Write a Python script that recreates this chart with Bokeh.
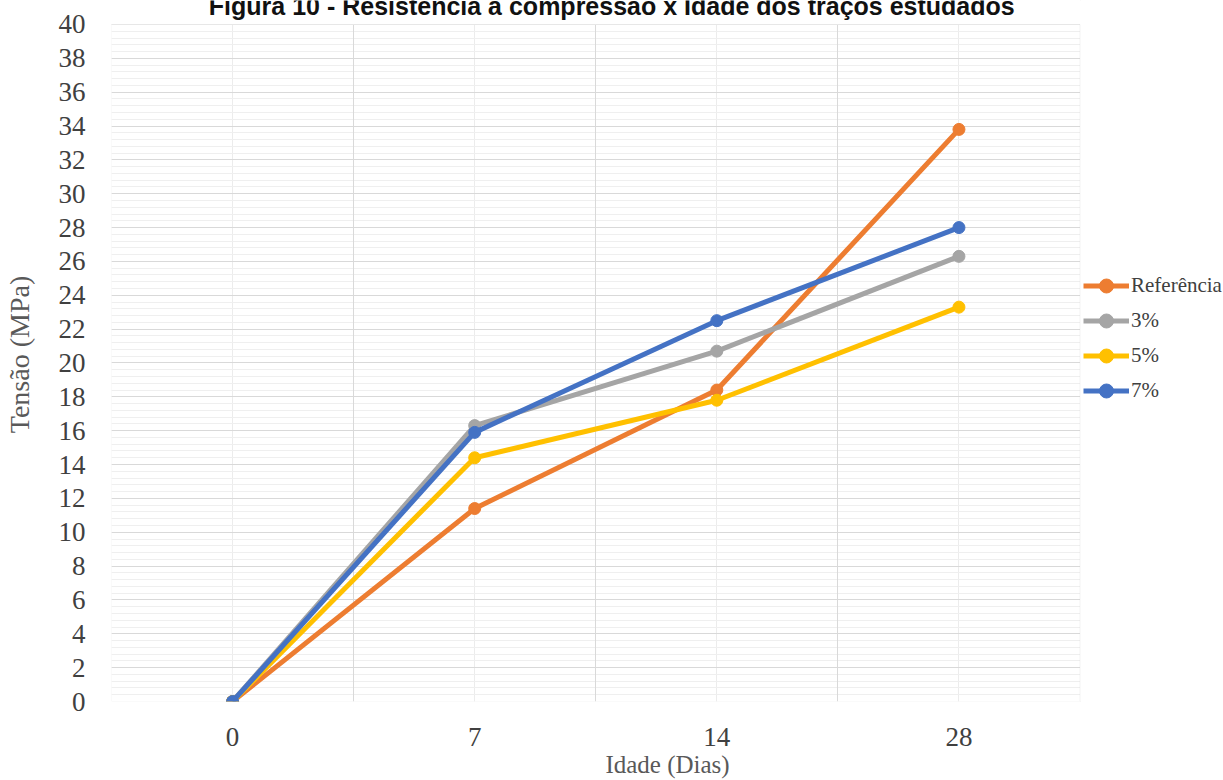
from bokeh.plotting import figure
from bokeh.models import (Range1d, Legend, LegendItem, Label, FixedTicker, Grid,
                          BoxAnnotation)
from bokeh.embed import file_html
from bokeh.resources import INLINE

# ---- data ----
ages = ["0", "7", "14", "28"]
referencia = [0, 11.4, 18.4, 33.8]
p3 = [0, 16.3, 20.7, 26.3]
p5 = [0, 14.4, 17.8, 23.3]
p7 = [0, 15.9, 22.5, 28.0]
series_names = ["Referência", "3%", "5%", "7%"]
series_values = [referencia, p3, p5, p7]
series_colors = ["#ED7D31", "#A5A5A5", "#FFC000", "#4472C4"]
y_ticks = list(range(0, 41, 2))
title_text = "Figura 10 - Resistência à compressão x Idade dos traços estudados"
x_title = "Idade (Dias)"
y_title = "Tensão  (MPa)"

# category positions on the axis
xpos = list(range(len(ages)))
x_lo, x_hi = -0.5, len(ages) - 0.5
y_lo, y_hi = 0, 40

# the frame is widened to hold the legend and the title (areas outside the
# plot box are blanked with white boxes)
p = figure(width=1223, height=780,
           x_range=Range1d(x_lo, x_hi + 144 / 243),
           y_range=Range1d(y_lo, y_hi + 24 / 16.95),
           output_backend="svg", toolbar_location=None,
           min_border_left=107, min_border_right=0,
           min_border_top=0, min_border_bottom=78)

p.background_fill_color = "white"
p.border_fill_color = "white"
p.outline_line_color = None

# ---- axes ----
p.xaxis.ticker = FixedTicker(ticks=xpos)
p.xaxis.major_label_overrides = {i: a for i, a in zip(xpos, ages)}
p.xaxis.bounds = (x_lo, x_hi)
p.yaxis.ticker = FixedTicker(ticks=y_ticks, minor_ticks=[i * 0.4 for i in range(101)])
p.yaxis.bounds = (y_lo, y_hi)

for ax in (p.xaxis[0], p.yaxis[0]):
    ax.axis_line_color = None
    ax.major_tick_line_color = None
    ax.minor_tick_line_color = None
    ax.major_tick_out = 0
    ax.major_label_text_font = "Liberation Serif"
    ax.major_label_text_font_size = "27px"
    ax.major_label_text_color = "#404040"
    ax.axis_label_text_font = "Liberation Serif"
    ax.axis_label_text_font_size = "25px"
    ax.axis_label_text_color = "#595959"
    ax.axis_label_text_font_style = "normal"

p.yaxis.major_label_standoff = 22
p.yaxis.axis_label = y_title
p.yaxis.axis_label_standoff = 21
p.yaxis.axis_label_text_font_size = "28px"
p.xaxis.major_label_standoff = 26
p.xaxis.axis_label = x_title
p.xaxis.axis_label_standoff = 2

# ---- grids ----
p.ygrid.grid_line_color = "#d9d9d9"
p.ygrid.minor_grid_line_color = "#efefef"
p.xgrid.grid_line_color = "#ececec"
p.add_layout(Grid(dimension=0, ticker=FixedTicker(ticks=[x + 0.5 for x in [x_lo - 1] + xpos]),
                  grid_line_color="#d9d9d9", level="underlay"))

# ---- series ----
items = []
for name, vals, col in zip(series_names, series_values, series_colors):
    rl = p.line(xpos, vals, line_color=col, line_width=5)
    rs = p.scatter(xpos, vals, size=12, fill_color=col, line_color=col)
    items.append(LegendItem(label=name, renderers=[rl, rs]))

# blank the areas outside the plot box
p.add_layout(BoxAnnotation(left=x_hi, fill_color="white", fill_alpha=1, line_color=None))
p.add_layout(BoxAnnotation(bottom=y_hi, fill_color="white", fill_alpha=1, line_color=None))
p.add_layout(BoxAnnotation(left=x_lo, right=x_hi, bottom=y_lo, top=y_hi, fill_alpha=0,
                           line_color="#d9d9d9", line_width=1))

legend = Legend(items=items, location=(972, 293), glyph_width=46, glyph_height=35,
                label_height=35, label_standoff=2, padding=0, margin=0, spacing=0,
                border_line_color=None, background_fill_alpha=0,
                label_text_font="Liberation Serif", label_text_font_size="21px",
                label_text_color="#404040")
p.add_layout(legend)

title = Label(x=(x_lo + x_hi) / 2, y=y_hi + 18 / 16.95, text=title_text,
              text_align="center", text_baseline="alphabetic", x_offset=16,
              text_font="Liberation Sans", text_font_size="25px",
              text_font_style="bold", text_color="#111111")
p.add_layout(title)

open("out.html", "w").write(file_html(p, INLINE))
